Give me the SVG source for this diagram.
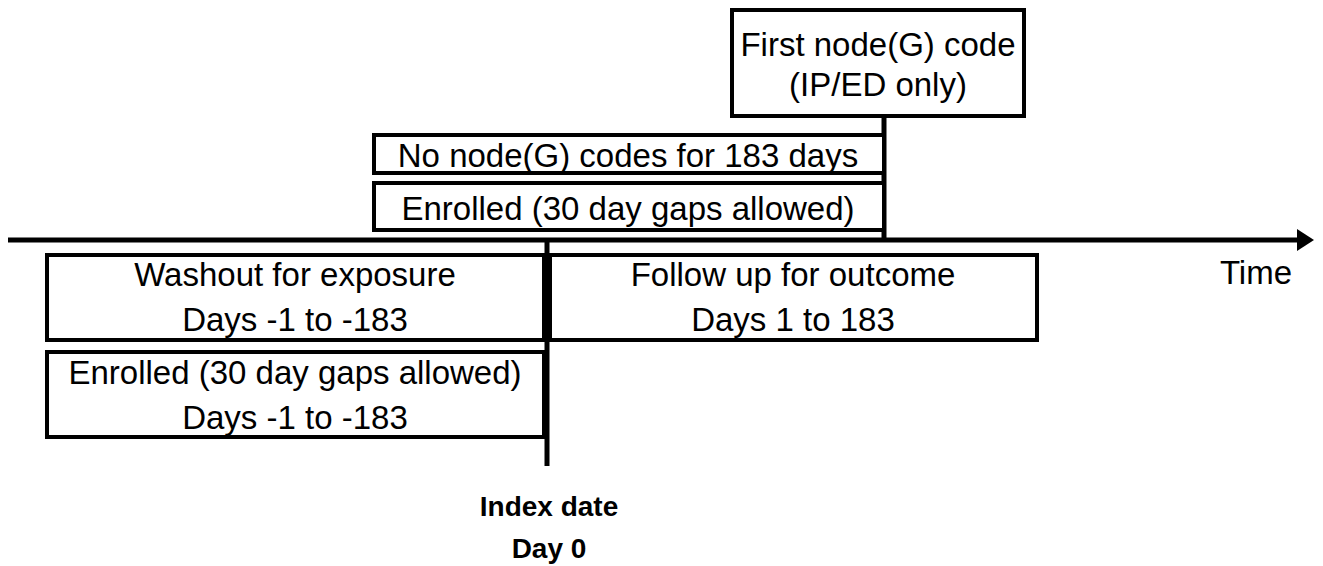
<svg xmlns="http://www.w3.org/2000/svg" width="1323" height="566" viewBox="0 0 1323 566">
<style>
.box{fill:#fff;stroke:#000;stroke-width:4}
.t{font-family:"Liberation Sans",Arial,sans-serif;font-size:33px;fill:#000;text-anchor:middle}
.b{font-family:"Liberation Sans",Arial,sans-serif;font-size:28px;font-weight:bold;fill:#000;text-anchor:middle}
.ln{stroke:#000;fill:none}
</style>
<defs>
<marker id="arr" markerWidth="18" markerHeight="24" refX="0" refY="12" orient="auto" markerUnits="userSpaceOnUse">
<path d="M0,1 L17,12 L0,23 Z" fill="#000"/>
</marker>
</defs>
<rect width="1323" height="566" fill="#fff"/>
<g id="connectors">
<line class="ln" x1="8" y1="240" x2="1297" y2="240" stroke-width="5" marker-end="url(#arr)"/>
<line class="ln" x1="884" y1="117" x2="884" y2="240" stroke-width="5"/>
<line class="ln" x1="547" y1="240" x2="547" y2="466" stroke-width="5"/>
</g>
<g id="first-code">
<rect class="box" x="732" y="10" width="292" height="106"/>
<text class="t" x="878" y="56">First node(G) code</text>
<text class="t" x="878" y="96">(IP/ED only)</text>
</g>
<g id="no-codes">
<rect class="box" x="374" y="135" width="510" height="38"/>
<text class="t" x="628" y="167">No node(G) codes for 183 days</text>
</g>
<g id="enrolled-top">
<rect class="box" x="374" y="183" width="510" height="47"/>
<text class="t" x="628" y="220">Enrolled (30 day gaps allowed)</text>
</g>
<g id="washout">
<rect class="box" x="47" y="255" width="497" height="85"/>
<text class="t" x="295" y="286">Washout for exposure</text>
<text class="t" x="295" y="331">Days -1 to -183</text>
</g>
<g id="followup">
<rect class="box" x="550" y="255" width="487" height="85"/>
<text class="t" x="793" y="286">Follow up for outcome</text>
<text class="t" x="793" y="331">Days 1 to 183</text>
</g>
<g id="enrolled-bottom">
<rect class="box" x="47" y="352" width="497" height="85"/>
<text class="t" x="295" y="384">Enrolled (30 day gaps allowed)</text>
<text class="t" x="295" y="429">Days -1 to -183</text>
</g>
<g id="time-label">
<text class="t" x="1256" y="284">Time</text>
</g>
<g id="index-label">
<text class="b" x="549" y="516">Index date</text>
<text class="b" x="549" y="558">Day 0</text>
</g>
</svg>
